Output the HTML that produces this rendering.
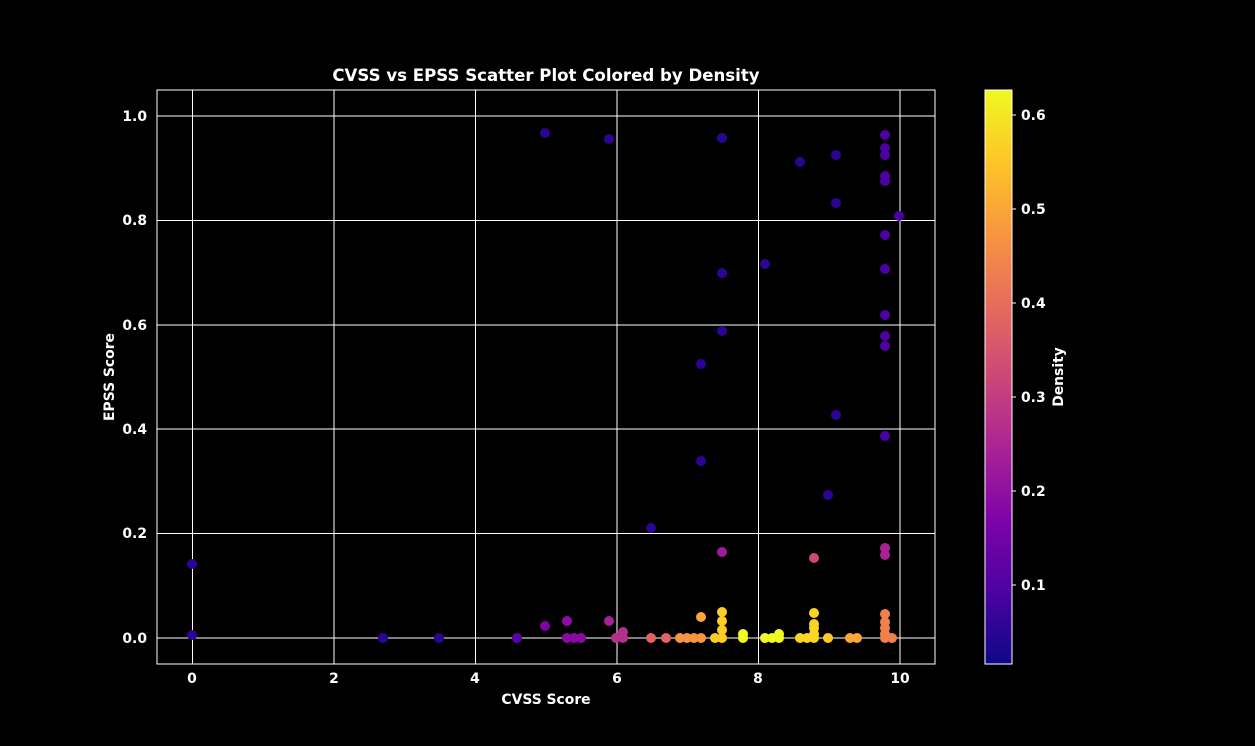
<!DOCTYPE html>
<html><head><meta charset="utf-8"><style>body{margin:0;background:#000}svg{display:block}text{font-family:"DejaVu Sans","Liberation Sans",sans-serif;fill:#fff;font-weight:bold}</style></head><body>
<svg width="1255" height="746" viewBox="0 0 1255 746">
<defs><linearGradient id="cb" x1="0" y1="1" x2="0" y2="0">
<stop offset="0" stop-color="#0d0887"/><stop offset="0.125" stop-color="#4c02a1"/><stop offset="0.25" stop-color="#7e03a8"/><stop offset="0.375" stop-color="#a92395"/><stop offset="0.5" stop-color="#cc4778"/><stop offset="0.625" stop-color="#e66c5c"/><stop offset="0.75" stop-color="#f89540"/><stop offset="0.875" stop-color="#fdc527"/><stop offset="1" stop-color="#f0f921"/></linearGradient></defs>
<text x="546" y="81" font-size="16.6" text-anchor="middle">CVSS vs EPSS Scatter Plot Colored by Density</text>
<g stroke="#fff" stroke-width="1">
<line x1="192.5" y1="90" x2="192.5" y2="664"/><line x1="334" y1="90" x2="334" y2="664"/><line x1="475.5" y1="90" x2="475.5" y2="664"/><line x1="617" y1="90" x2="617" y2="664"/><line x1="758.5" y1="90" x2="758.5" y2="664"/><line x1="900" y1="90" x2="900" y2="664"/>
<line x1="157" y1="116" x2="935" y2="116"/><line x1="157" y1="220.5" x2="935" y2="220.5"/><line x1="157" y1="325" x2="935" y2="325"/><line x1="157" y1="429" x2="935" y2="429"/><line x1="157" y1="533.5" x2="935" y2="533.5"/><line x1="157" y1="638" x2="935" y2="638"/>
</g>
<g font-size="13.9" text-anchor="middle">
<text x="192" y="683">0</text><text x="334" y="683">2</text><text x="475" y="683">4</text><text x="617" y="683">6</text><text x="758" y="683">8</text><text x="900" y="683">10</text>
<text x="546" y="704">CVSS Score</text>
</g>
<g font-size="13.9" text-anchor="end">
<text x="147" y="121">1.0</text><text x="147" y="225">0.8</text><text x="147" y="330">0.6</text><text x="147" y="434">0.4</text><text x="147" y="538">0.2</text><text x="147" y="643">0.0</text>
</g>
<text transform="translate(114,377) rotate(-90)" font-size="13.9" text-anchor="middle">EPSS Score</text>
<g>
<circle cx="192" cy="564" r="5" fill="#2a0593"/><circle cx="192" cy="635" r="5" fill="#2a0593"/>
<g fill="#2a0593">
<circle cx="545" cy="133" r="5"/><circle cx="609" cy="139" r="5"/><circle cx="722" cy="138" r="5"/><circle cx="800" cy="162" r="5"/><circle cx="836" cy="155" r="5"/><circle cx="836" cy="203" r="5"/><circle cx="765" cy="264" r="5"/><circle cx="722" cy="273" r="5"/><circle cx="722" cy="331" r="5"/><circle cx="701" cy="364" r="5"/><circle cx="836" cy="415" r="5"/><circle cx="701" cy="461" r="5"/><circle cx="828" cy="495" r="5"/><circle cx="651" cy="528" r="5"/><circle cx="383" cy="638" r="5"/><circle cx="439" cy="638" r="5"/>
</g>
<g fill="#4c02a1">
<circle cx="885" cy="135" r="5"/><circle cx="885" cy="148" r="5"/><circle cx="885" cy="155" r="5"/><circle cx="885" cy="176" r="5"/><circle cx="885" cy="181" r="5"/><circle cx="899" cy="216" r="5"/><circle cx="885" cy="235" r="5"/><circle cx="885" cy="269" r="5"/><circle cx="885" cy="315" r="5"/><circle cx="885" cy="336" r="5"/><circle cx="885" cy="346" r="5"/><circle cx="885" cy="436" r="5"/><circle cx="517" cy="638" r="5" fill="#5c01a6"/>
</g>
<circle cx="722" cy="552" r="5" fill="#a01a9c"/><circle cx="814" cy="558" r="5" fill="#cc4778"/><circle cx="885" cy="548" r="5" fill="#a82296"/><circle cx="885" cy="555" r="5" fill="#a82296"/>
<circle cx="545" cy="626" r="5" fill="#7e03a8"/><circle cx="567" cy="621" r="5" fill="#8f0da4"/>
<g fill="#8b0aa5"><circle cx="567" cy="638" r="5"/><circle cx="574" cy="638" r="5"/><circle cx="581" cy="638" r="5"/></g>
<circle cx="609" cy="621" r="5" fill="#a62098"/>
<g fill="#b52f8c"><circle cx="616" cy="638" r="5"/><circle cx="623" cy="632" r="5"/><circle cx="623" cy="638" r="5"/></g>
<g fill="#e16462"><circle cx="651" cy="638" r="5"/><circle cx="666" cy="638" r="5"/></g>
<g fill="#f89540"><circle cx="680" cy="638" r="5"/><circle cx="687" cy="638" r="5"/><circle cx="694" cy="638" r="5"/><circle cx="701" cy="638" r="5"/></g>
<circle cx="701" cy="617" r="5" fill="#fca636"/>
<g fill="#fccd25"><circle cx="715" cy="638" r="5"/><circle cx="722" cy="612" r="5"/><circle cx="722" cy="621" r="5"/><circle cx="722" cy="630" r="5"/><circle cx="722" cy="638" r="5"/></g>
<g fill="#f0f921"><circle cx="743" cy="634" r="5"/><circle cx="743" cy="638" r="5"/><circle cx="765" cy="638" r="5"/><circle cx="772" cy="638" r="5"/><circle cx="779" cy="638" r="5"/><circle cx="779" cy="634" r="5"/></g>
<g fill="#fbd524"><circle cx="800" cy="638" r="5"/><circle cx="807" cy="638" r="5"/><circle cx="814" cy="638" r="5"/><circle cx="814" cy="634" r="5"/><circle cx="814" cy="628" r="5"/><circle cx="814" cy="624" r="5"/><circle cx="814" cy="613" r="5"/><circle cx="828" cy="638" r="5" fill="#fdca26"/></g>
<g fill="#fca636"><circle cx="850" cy="638" r="5"/><circle cx="857" cy="638" r="5"/></g>
<g fill="#f0804c"><circle cx="885" cy="614" r="5"/><circle cx="885" cy="622" r="5"/><circle cx="885" cy="628" r="5"/><circle cx="885" cy="634" r="5"/><circle cx="885" cy="638" r="5"/><circle cx="892" cy="638" r="5"/></g>
</g>
<rect x="157" y="90" width="778" height="574" fill="none" stroke="#fff" stroke-width="1"/>
<rect x="985" y="90" width="27" height="574" fill="url(#cb)"/>
<rect x="985" y="90" width="27" height="574" fill="none" stroke="#fff" stroke-width="1"/>
<g stroke="#fff"><line x1="1012" y1="115" x2="1016" y2="115"/><line x1="1012" y1="209" x2="1016" y2="209"/><line x1="1012" y1="303" x2="1016" y2="303"/><line x1="1012" y1="397" x2="1016" y2="397"/><line x1="1012" y1="491" x2="1016" y2="491"/><line x1="1012" y1="585" x2="1016" y2="585"/></g>
<g font-size="13.9"><text x="1021" y="120">0.6</text><text x="1021" y="214">0.5</text><text x="1021" y="308">0.4</text><text x="1021" y="402">0.3</text><text x="1021" y="496">0.2</text><text x="1021" y="590">0.1</text></g>
<text transform="translate(1063,377) rotate(-90)" font-size="13.9" text-anchor="middle">Density</text>
</svg>
</body></html>
